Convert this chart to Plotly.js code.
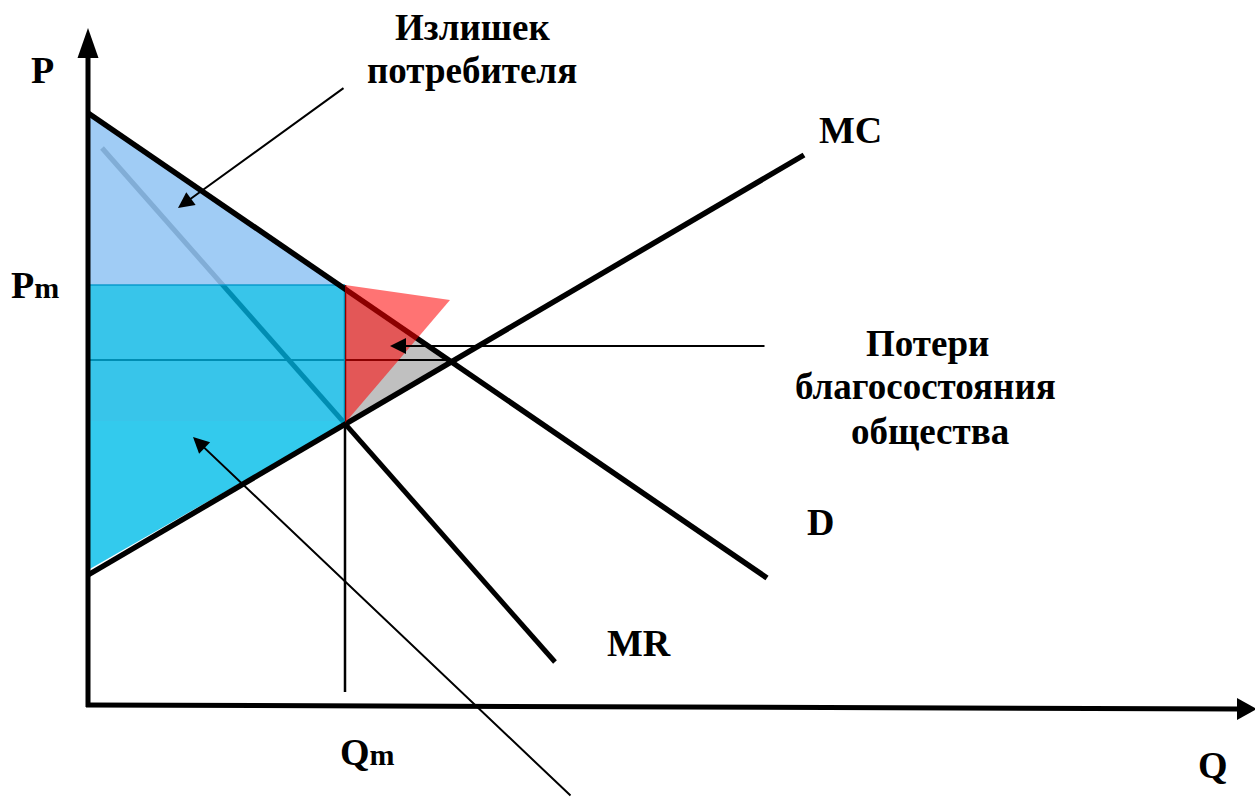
<!DOCTYPE html>
<html>
<head>
<meta charset="utf-8">
<script src="https://cdn.plot.ly/plotly-3.0.1.min.js"></script>
<style>html,body{margin:0;padding:0;background:#fff;}#chart{width:1255px;height:802px;}</style>
</head>
<body>
<div id="chart"></div>
<script>
// Economic diagram in quantity (Q) / price (P) units, origin at axis corner
var demandQ = [0, 679];
var demandP = [593, 128];
var mrQ = [14, 467];
var mrP = [558, 44];
var mcQ = [0, 716];
var mcP = [131, 551];
var Qm = 257;
var Pm = 421;
var Pc = 346;          // competitive price level line
var Qc = 363;          // D and MC intersection quantity
var Pmc = 283;         // MC at Qm
var Pd0 = 593;         // demand intercept
var Qd_Pm = 252;       // demand at Pm
var cyanSplitP = 285;
var mcIntercept = 136;
var dwlQ = [257, 363, 257];
var dwlP = [418, 344, 283];
var redQ = [257, 362, 257];
var redP = [421, 406, 283];
var axisTopP = 678;
var axisRightQ = 1169;

var labels = ['P', 'P<span style="font-size:30px">m</span>', 'Q<span style="font-size:30px">m</span>', 'Q', 'MC', 'D', 'MR'];
var labelQ = [-46, -53, 279, 1125, 762, 732, 551];
var labelP = [636, 421, -46, -59, 576, 184, 63];
var textLines = ['Излишек', 'потребителя', 'Потери', 'благосостояния', 'общества'];
var textQ = [384, 384, 839, 837, 842];
var textP = [679, 636, 363, 320, 275];

var fontFam = 'Liberation Serif, Times New Roman, serif';
var black = '#000';
var noLine = {width: 0, color: 'rgba(0,0,0,0)'};

var traces = [];
// deadweight loss (gray)
traces.push({x: dwlQ, y: dwlP, fill: 'toself', fillcolor: '#c0c0c0', mode: 'lines', line: noLine});
// MR
traces.push({x: mrQ, y: mrP, mode: 'lines', line: {color: black, width: 5}});
// competitive price line
traces.push({x: [0, Qc], y: [Pc, Pc], mode: 'lines', line: {color: black, width: 2}});
// Qm vertical
traces.push({x: [Qm, Qm], y: [Pm, 14], mode: 'lines', line: {color: black, width: 2.5}});
// consumer surplus
traces.push({x: [0, Qd_Pm, 0], y: [Pd0, Pm, Pm], fill: 'toself', fillcolor: 'rgba(147,197,244,0.88)', mode: 'lines', line: noLine});
// cyan upper
traces.push({x: [0, Qm, Qm, 0], y: [Pm, Pm, cyanSplitP, cyanSplitP], fill: 'toself', fillcolor: 'rgba(0,181,228,0.78)', mode: 'lines', line: noLine});
// cyan lower
traces.push({x: [0, Qm, Qm, 0], y: [cyanSplitP, cyanSplitP, Pmc, mcIntercept], fill: 'toself', fillcolor: 'rgba(0,189,232,0.80)', mode: 'lines', line: noLine});
// top border of cyan
traces.push({x: [0, Qm], y: [Pm, Pm], mode: 'lines', line: {color: 'rgba(0,150,200,0.9)', width: 1.5}});
// Demand
traces.push({x: demandQ, y: demandP, mode: 'lines', line: {color: black, width: 5.5}});
// MC
traces.push({x: mcQ, y: mcP, mode: 'lines', line: {color: black, width: 5.5}});
// red triangle
traces.push({x: redQ, y: redP, fill: 'toself', fillcolor: 'rgba(255,0,0,0.55)', mode: 'lines', line: noLine});
// axes
traces.push({x: [0, 0], y: [-1, 650], mode: 'lines', line: {color: black, width: 5}});
traces.push({x: [-10.5, 10.5, 0, -10.5], y: [648, 648, axisTopP, 648], fill: 'toself', fillcolor: black, mode: 'lines', line: noLine});
traces.push({x: [-2, 1151], y: [1, -3], mode: 'lines', line: {color: black, width: 5}});
traces.push({x: [1149, 1149, axisRightQ, 1149], y: [8, -14, -3, 8], fill: 'toself', fillcolor: black, mode: 'lines', line: noLine});

var ann = [];
for (var i = 0; i < labels.length; i++) {
  ann.push({x: labelQ[i], y: labelP[i], xref: 'x', yref: 'y', text: '<b>' + labels[i] + '</b>', showarrow: false,
    font: {family: fontFam, size: 38, color: black}});
}
for (var j = 0; j < textLines.length; j++) {
  ann.push({x: textQ[j], y: textP[j], xref: 'x', yref: 'y', text: '<b>' + textLines[j] + '</b>', showarrow: false,
    font: {family: fontFam, size: 37, color: black}});
}
// arrows
var arrows = [
  {hx: 90, hy: 498, tx: 257, ty: 619},
  {hx: 302, hy: 360, tx: 678, ty: 360},
  {hx: 105, hy: 269, tx: 484, ty: -91}
];
arrows.forEach(function (a) {
  ann.push({x: a.hx, y: a.hy, ax: a.tx, ay: a.ty, xref: 'x', yref: 'y', axref: 'x', ayref: 'y', text: '',
    showarrow: true, arrowhead: 2, arrowsize: 1.6, arrowwidth: 2, arrowcolor: black});
});

var layout = {
  width: 1255, height: 802,
  margin: {l: 0, r: 0, t: 0, b: 0, pad: 0},
  paper_bgcolor: '#fff', plot_bgcolor: '#fff',
  showlegend: false, hovermode: false,
  xaxis: {range: [-88, 1167], visible: false, fixedrange: true},
  yaxis: {range: [-96, 706], visible: false, fixedrange: true},
  annotations: ann
};
traces.forEach(function (t) { t.hoverinfo = 'skip'; t.showlegend = false; });
Plotly.newPlot('chart', traces, layout, {staticPlot: true, displayModeBar: false});
</script>
</body>
</html>
